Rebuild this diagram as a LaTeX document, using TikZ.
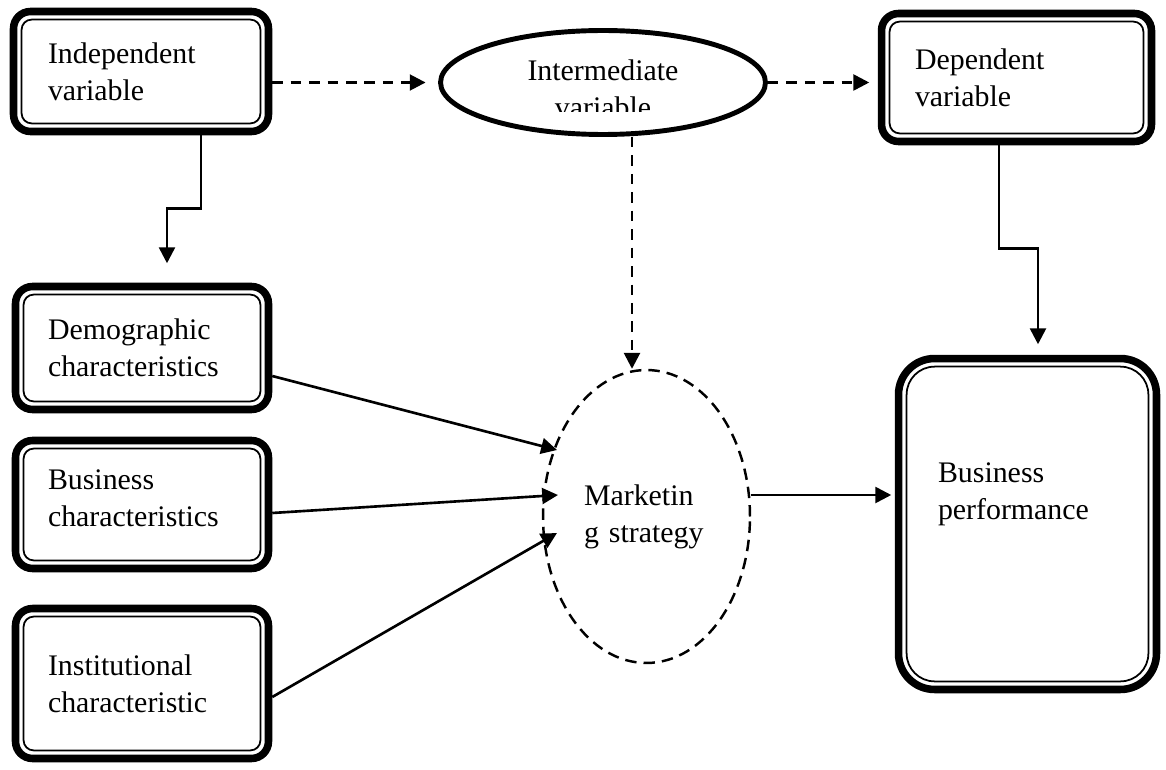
\documentclass[tikz,border=0pt]{standalone}
\usepackage{fontspec}
\setmainfont{Liberation Serif}
\usetikzlibrary{arrows.meta, shapes, calc}

\begin{document}
\begin{tikzpicture}[
    x=0.02cm, y=-0.02cm,
    every node/.style={font=\fontsize{17}{21}\selectfont},
    frame/.style={rectangle, draw, line width=4.3pt, rounded corners=0.34cm, align=left,
      path picture={\draw[line width=1pt, rounded corners=0.2cm]
        ([shift={(4.6pt,4.6pt)}]path picture bounding box.south west) rectangle
        ([shift={(-4.6pt,-4.6pt)}]path picture bounding box.north east);}},
    bigframe/.style={frame, rounded corners=0.72cm,
      path picture={\draw[line width=1pt, rounded corners=0.56cm]
        ([shift={(4.6pt,4.6pt)}]path picture bounding box.south west) rectangle
        ([shift={(-4.6pt,-4.6pt)}]path picture bounding box.north east);}},
    oval/.style={ellipse, draw, line width=2.8pt, minimum width=6.5cm, minimum height=2.08cm},
    dashoval/.style={ellipse, draw, line width=1.4pt, dash pattern=on 6.5pt off 4pt, align=left},
    arrow/.style={-{Triangle[length=9pt, width=9pt]}, line width=1.5pt},
    dasharrow/.style={arrow, dash pattern=on 6pt off 4.5pt}
  ]
    \useasboundingbox (0,0) rectangle (1166,770);

    \node[frame, minimum width=5.1cm, minimum height=2.4cm, text width=3.72cm] (indep) at (141,71.5) {Independent\\variable};
    \node[frame, minimum width=5.4cm, minimum height=2.56cm, text width=4.06cm] (dep) at (1016.5,77.5) {Dependent\\variable};
    \node[oval] (inter) at (603,82.5) {};
    \begin{scope}
      \clip ($(inter.west)+(0,-70)$) rectangle ($(inter.east)+(0,29.5)$);
      \node[align=center] (intertext) at ($(inter)+(0,6)$) {Intermediate\\variable};
    \end{scope}

    \node[frame, minimum width=5.06cm, minimum height=2.46cm, text width=3.76cm] (demo) at (142,348) {Demographic\\characteristics};
    \node[frame, minimum width=5.06cm, minimum height=2.56cm, text width=3.76cm, text depth=0.98cm] (bus) at (142,504.5) {Business\\characteristics};
    \node[frame, minimum width=5.06cm, minimum height=3cm, text width=3.76cm] (inst) at (142,683.5) {Institutional\\characteristic};

    \node[dashoval, minimum width=4.14cm, minimum height=5.86cm, text width=2.5cm] (mkt) at (646.5,516.5) {Marketin\\g strategy};
    \node[bigframe, minimum width=5.16cm, minimum height=6.62cm, text width=3.58cm, text depth=2.05cm] (perf) at (1027.5,524) {Business\\performance};

    \draw[dasharrow, shorten >=0.25cm] (indep.east |- inter) -- (inter.west);
    \draw[dasharrow, shorten >=0.17cm] (inter.east) -- (inter.east -| dep.west);
    \draw[dasharrow] ($(inter.south)+(29,0)$) -- ($(mkt.north)+(-14.5,0)$);

    \draw[arrow, shorten >=0.39cm] ($(indep.south)+(60,0)$) -- ++(0,73.5) -| ($(demo.north)+(25,0)$);
    \draw[arrow, shorten >=0.21cm] ($(dep.south)+(-17.5,0)$) -- ++(0,103.5) -| ($(perf.north)+(10.5,0)$);

    \draw[arrow] ($(demo.east)+(0,28)$) -- ($(mkt.center)+(-89.5,-66.5)$);
    \draw[arrow] ($(bus.east)+(0,8.5)$) -- ($(mkt.center)+(-88.5,-21.5)$);
    \draw[arrow] ($(inst.east)+(0,13.5)$) -- ($(mkt.center)+(-89.5,16.5)$);

    \coordinate (mktout) at ($(mkt.east)+(0,-21.5)$);
    \draw[arrow, shorten >=0.07cm] (mktout) -- (mktout -| perf.west);
  \end{tikzpicture}
\end{document}
